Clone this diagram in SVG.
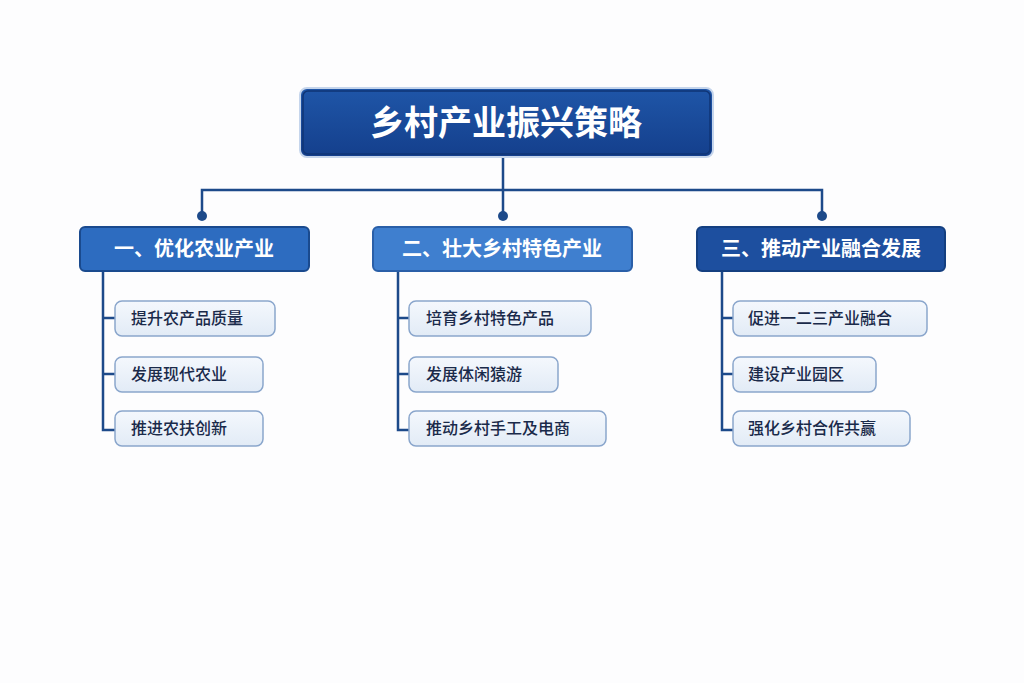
<svg xmlns="http://www.w3.org/2000/svg" width="1024" height="683" viewBox="0 0 1024 683">
<defs>
<linearGradient id="gt" x1="0" y1="0" x2="0" y2="1"><stop offset="0" stop-color="#1f56a8"/><stop offset="1" stop-color="#143f8c"/></linearGradient>
<linearGradient id="gc" x1="0" y1="0" x2="0" y2="1"><stop offset="0" stop-color="#f4f8fd"/><stop offset="1" stop-color="#e2ebf6"/></linearGradient>
</defs>
<style>
.ln{stroke:#1d4a8a;stroke-width:2.5;fill:none}
.ch{fill:url(#gc);stroke:#8aa6cc;stroke-width:1.5}
.ct{font-family:"Noto Sans CJK SC",sans-serif;font-size:16px;fill:#1a2a4a;font-weight:500}
.hd{font-family:"Noto Sans CJK SC",sans-serif;font-size:20px;fill:#fff;font-weight:700}
</style>
<rect width="1024" height="683" fill="#fdfdfe"/>
<g id="connectors">
<path class="ln" d="M503 157V190M202 216V190H822V216M503 190V216"/>
<circle cx="202" cy="216" r="5" fill="#1d4a8a"/><circle cx="503" cy="216" r="5" fill="#1d4a8a"/><circle cx="822" cy="216" r="5" fill="#1d4a8a"/>
<path class="ln" d="M103 271V430H115M103 318H115M103 374H115"/>
<path class="ln" d="M398 271V430H409M398 318H409M398 374H409"/>
<path class="ln" d="M722 271V430H733M722 318H733M722 374H733"/>
</g>
<g id="title"><rect x="300" y="88" width="413" height="69" rx="7" fill="url(#gt)" stroke="#c5d5ec" stroke-width="2"/><rect x="303" y="91" width="407" height="63" rx="5" fill="none" stroke="#0f3576" stroke-width="1.5"/>
<text x="506" y="135" text-anchor="middle" font-family="Noto Sans CJK SC,sans-serif" font-size="34" font-weight="700" fill="#fff">乡村产业振兴策略</text></g>
<g id="c1"><rect x="80" y="227" width="229" height="44" rx="5" fill="#2d6cc0" stroke="#1a4a8e" stroke-width="2"/><text class="hd" x="194" y="256" text-anchor="middle">一、优化农业产业</text></g>
<g id="c2"><rect x="373" y="227" width="259" height="44" rx="5" fill="#3f7fcf" stroke="#2a5fa8" stroke-width="2"/><text class="hd" x="502" y="256" text-anchor="middle">二、壮大乡村特色产业</text></g>
<g id="c3"><rect x="697" y="227" width="248" height="44" rx="5" fill="#1d4f9f" stroke="#143f80" stroke-width="2"/><text class="hd" x="821" y="256" text-anchor="middle">三、推动产业融合发展</text></g>
<g id="n11"><rect class="ch" x="115" y="301" width="160" height="35" rx="7"/><text class="ct" x="131" y="324">提升农产品质量</text></g>
<g id="n12"><rect class="ch" x="115" y="357" width="148" height="35" rx="7"/><text class="ct" x="131" y="380">发展现代农业</text></g>
<g id="n13"><rect class="ch" x="115" y="411" width="148" height="35" rx="7"/><text class="ct" x="131" y="434">推进农扶创新</text></g>
<g id="n21"><rect class="ch" x="409" y="301" width="182" height="35" rx="7"/><text class="ct" x="426" y="324">培育乡村特色产品</text></g>
<g id="n22"><rect class="ch" x="409" y="357" width="149" height="35" rx="7"/><text class="ct" x="426" y="380">发展体闲猿游</text></g>
<g id="n23"><rect class="ch" x="409" y="411" width="197" height="35" rx="7"/><text class="ct" x="426" y="434">推动乡村手工及电商</text></g>
<g id="n31"><rect class="ch" x="733" y="301" width="194" height="35" rx="7"/><text class="ct" x="748" y="324">促进一二三产业融合</text></g>
<g id="n32"><rect class="ch" x="733" y="357" width="143" height="35" rx="7"/><text class="ct" x="748" y="380">建设产业园区</text></g>
<g id="n33"><rect class="ch" x="733" y="411" width="177" height="35" rx="7"/><text class="ct" x="748" y="434">强化乡村合作共赢</text></g>
</svg>
